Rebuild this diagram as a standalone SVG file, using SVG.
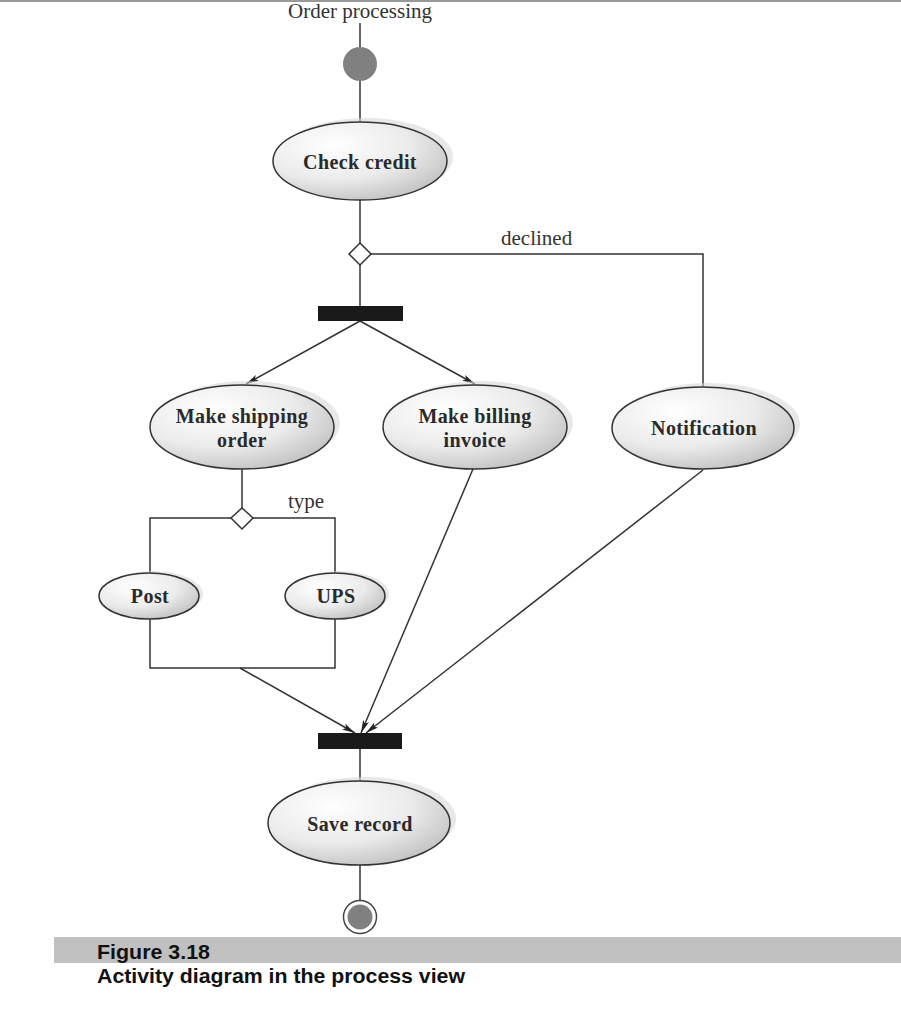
<svg xmlns="http://www.w3.org/2000/svg" width="901" height="1024" viewBox="0 0 901 1024">
<style>
.ln{fill:none;stroke:#333;stroke-width:1.5}
.el{fill:url(#eg);stroke:#333;stroke-width:1.5}
.sh{fill:#d8d8d8;opacity:0.6}
.nt{font-family:"Liberation Serif","Times New Roman",serif;font-weight:bold;font-size:20px;fill:#2a2a2a;text-anchor:middle;letter-spacing:0.4px}
.lb{font-family:"Liberation Serif","Times New Roman",serif;font-size:21px;fill:#333}
.bar{fill:#1a1a1a}
.cap{font-family:"Liberation Sans",Arial,sans-serif;font-weight:bold;font-size:20px;fill:#111}
</style>
<defs>
<radialGradient id="eg" cx="0.35" cy="0.3" r="0.8">
<stop offset="0" stop-color="#ffffff"/>
<stop offset="0.55" stop-color="#ebebeb"/>
<stop offset="1" stop-color="#bdbdbd"/>
</radialGradient>
<marker id="ar" markerWidth="14" markerHeight="8" refX="13" refY="4" orient="auto" markerUnits="userSpaceOnUse">
<path d="M0,0.8 L13,4 L0,7.2 L3,4 Z" fill="#222"/>
</marker>
</defs>
<rect width="901" height="1024" fill="#fff"/>
<line x1="0" y1="1" x2="901" y2="1" stroke="#999" stroke-width="2"/>
<text class="lb" x="360" y="18" text-anchor="middle">Order processing</text>

<g id="connectors">
<line class="ln" x1="360" y1="23" x2="360" y2="47"/>
<line class="ln" x1="360" y1="80" x2="360" y2="122"/>
<line class="ln" x1="360" y1="200" x2="360" y2="243"/>
<polyline class="ln" points="371,254 703,254 703,387"/>
<line class="ln" x1="360" y1="265" x2="360" y2="306"/>
<line class="ln" x1="360" y1="321" x2="246" y2="384" marker-end="url(#ar)"/>
<line class="ln" x1="360" y1="321" x2="475" y2="384" marker-end="url(#ar)"/>
<line class="ln" x1="242" y1="469" x2="242" y2="508"/>
<polyline class="ln" points="231,518 150,518 150,574"/>
<polyline class="ln" points="253,518 335,518 335,574"/>
<polyline class="ln" points="150,619 150,668 335,668 335,619"/>
<line class="ln" x1="240" y1="668" x2="355" y2="733" marker-end="url(#ar)"/>
<line class="ln" x1="473" y1="469" x2="361" y2="733" marker-end="url(#ar)"/>
<line class="ln" x1="703" y1="470" x2="366" y2="733" marker-end="url(#ar)"/>
<line class="ln" x1="360" y1="749" x2="360" y2="782"/>
<line class="ln" x1="360" y1="864" x2="360" y2="900"/>
<text class="lb" x="501" y="245">declined</text>
<text class="lb" x="288" y="508">type</text>
</g>

<g id="start"><circle cx="360" cy="64" r="17" fill="#808080"/></g>

<g id="checkCredit">
<ellipse class="sh" cx="366" cy="157" rx="87" ry="39"/>
<ellipse class="el" cx="360" cy="161" rx="87" ry="39"/>
<text class="nt" x="360" y="169">Check credit</text>
</g>

<g id="decision1"><polygon points="360,243 371,254 360,265 349,254" fill="#fff" stroke="#333" stroke-width="1.5"/></g>

<g id="fork"><rect class="bar" x="318" y="306" width="85" height="15"/></g>

<g id="makeShipping">
<ellipse class="sh" cx="248" cy="423" rx="92" ry="42"/>
<ellipse class="el" cx="242" cy="427" rx="92" ry="42"/>
<text class="nt" x="242" y="423">Make shipping</text>
<text class="nt" x="242" y="447">order</text>
</g>

<g id="makeBilling">
<ellipse class="sh" cx="481" cy="423" rx="92" ry="42"/>
<ellipse class="el" cx="475" cy="427" rx="92" ry="42"/>
<text class="nt" x="475" y="423">Make billing</text>
<text class="nt" x="475" y="447">invoice</text>
</g>

<g id="notification">
<ellipse class="sh" cx="709" cy="424" rx="91" ry="41"/>
<ellipse class="el" cx="703" cy="428" rx="91" ry="41"/>
<text class="nt" x="704" y="435">Notification</text>
</g>

<g id="decision2"><polygon points="242,508 253,518 242,529 231,518" fill="#fff" stroke="#333" stroke-width="1.5"/></g>

<g id="post">
<ellipse class="sh" cx="153" cy="594" rx="50" ry="23"/>
<ellipse class="el" cx="149" cy="596" rx="50" ry="23"/>
<text class="nt" x="150" y="603">Post</text>
</g>

<g id="ups">
<ellipse class="sh" cx="339" cy="594" rx="50" ry="23"/>
<ellipse class="el" cx="335" cy="596" rx="50" ry="23"/>
<text class="nt" x="336" y="603">UPS</text>
</g>

<g id="join"><rect class="bar" x="318" y="733" width="84" height="16"/></g>

<g id="saveRecord">
<ellipse class="sh" cx="365" cy="819" rx="91" ry="42"/>
<ellipse class="el" cx="359" cy="823" rx="91" ry="42"/>
<text class="nt" x="360" y="831">Save record</text>
</g>

<g id="end">
<circle cx="360" cy="917" r="16.5" fill="#fff" stroke="#444" stroke-width="1.5"/>
<circle cx="360" cy="917" r="12.5" fill="#808080"/>
</g>

<g id="caption">
<rect x="54" y="937" width="847" height="26" fill="#c0c0c0"/>
<text class="cap" x="97" y="959" textLength="113" lengthAdjust="spacingAndGlyphs">Figure 3.18</text>
<text class="cap" x="97" y="983" textLength="368" lengthAdjust="spacingAndGlyphs">Activity diagram in the process view</text>
</g>
</svg>
